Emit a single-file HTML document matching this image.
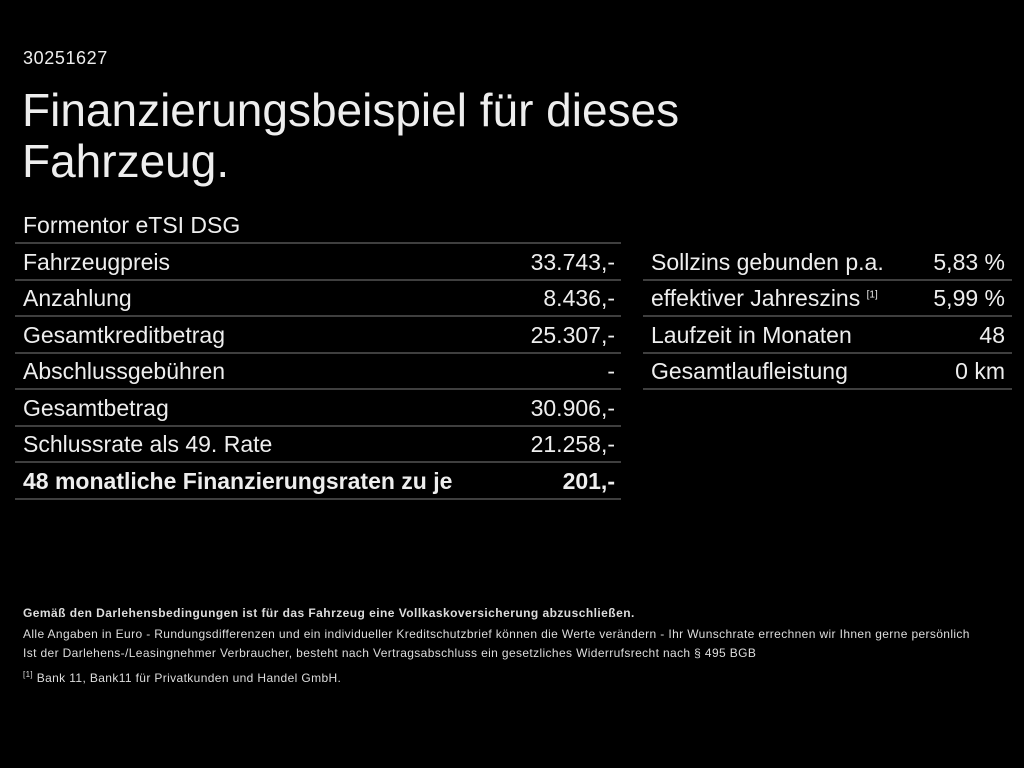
<!DOCTYPE html>
<html><head><meta charset="utf-8"><style>
body{margin:0;width:1024px;height:768px;background:#000;color:#eee;font-family:"Liberation Sans",sans-serif;position:relative;overflow:hidden}
.a{position:absolute;white-space:nowrap}
.r{position:absolute;height:2px;background:#3f3f3f}
.t{font-size:23px;line-height:26px}
.s{font-size:12px;color:#ddd;letter-spacing:0.37px}
sup{line-height:0}
</style></head><body>
<div class="a" style="left:23px;top:48px;font-size:18px;letter-spacing:0.6px">30251627</div>
<div class="a" style="left:22px;top:85px;font-size:46px;line-height:51px">Finanzierungsbeispiel für dieses<br>Fahrzeug.</div>
<div class="a t" style="left:23px;top:212px">Formentor eTSI DSG</div>

<div class="r" style="left:15px;width:606px;top:242px"></div>
<div class="a t" style="left:23px;top:249px">Fahrzeugpreis</div><div class="a t" style="right:409px;top:249px">33.743,-</div>
<div class="r" style="left:15px;width:606px;top:279px"></div>
<div class="a t" style="left:23px;top:285px">Anzahlung</div><div class="a t" style="right:409px;top:285px">8.436,-</div>
<div class="r" style="left:15px;width:606px;top:315px"></div>
<div class="a t" style="left:23px;top:322px">Gesamtkreditbetrag</div><div class="a t" style="right:409px;top:322px">25.307,-</div>
<div class="r" style="left:15px;width:606px;top:352px"></div>
<div class="a t" style="left:23px;top:358px">Abschlussgebühren</div><div class="a t" style="right:409px;top:358px">-</div>
<div class="r" style="left:15px;width:606px;top:388px"></div>
<div class="a t" style="left:23px;top:395px">Gesamtbetrag</div><div class="a t" style="right:409px;top:395px">30.906,-</div>
<div class="r" style="left:15px;width:606px;top:425px"></div>
<div class="a t" style="left:23px;top:431px">Schlussrate als 49. Rate</div><div class="a t" style="right:409px;top:431px">21.258,-</div>
<div class="r" style="left:15px;width:606px;top:461px"></div>
<div class="a t" style="left:23px;top:468px;font-weight:bold">48 monatliche Finanzierungsraten zu je</div><div class="a t" style="right:409px;top:468px;font-weight:bold">201,-</div>
<div class="r" style="left:15px;width:606px;top:498px"></div>

<div class="a t" style="left:651px;top:249px">Sollzins gebunden p.a.</div><div class="a t" style="right:19px;top:249px">5,83 %</div>
<div class="r" style="left:643px;width:369px;top:279px"></div>
<div class="a t" style="left:651px;top:285px">effektiver Jahreszins <sup style="font-size:10px">[1]</sup></div><div class="a t" style="right:19px;top:285px">5,99 %</div>
<div class="r" style="left:643px;width:369px;top:315px"></div>
<div class="a t" style="left:651px;top:322px">Laufzeit in Monaten</div><div class="a t" style="right:19px;top:322px">48</div>
<div class="r" style="left:643px;width:369px;top:352px"></div>
<div class="a t" style="left:651px;top:358px">Gesamtlaufleistung</div><div class="a t" style="right:19px;top:358px">0 km</div>
<div class="r" style="left:643px;width:369px;top:388px"></div>

<div class="a s" style="left:23px;top:606px;font-weight:bold;letter-spacing:0.45px">Gemäß den Darlehensbedingungen ist für das Fahrzeug eine Vollkaskoversicherung abzuschließen.</div>
<div class="a s" style="left:23px;top:627px">Alle Angaben in Euro - Rundungsdifferenzen und ein individueller Kreditschutzbrief können die Werte verändern - Ihr Wunschrate errechnen wir Ihnen gerne persönlich</div>
<div class="a s" style="left:23px;top:646px">Ist der Darlehens-/Leasingnehmer Verbraucher, besteht nach Vertragsabschluss ein gesetzliches Widerrufsrecht nach § 495 BGB</div>
<div class="a s" style="left:23px;top:671px"><sup style="font-size:8px">[1]</sup> Bank 11, Bank11 für Privatkunden und Handel GmbH.</div>
</body></html>
